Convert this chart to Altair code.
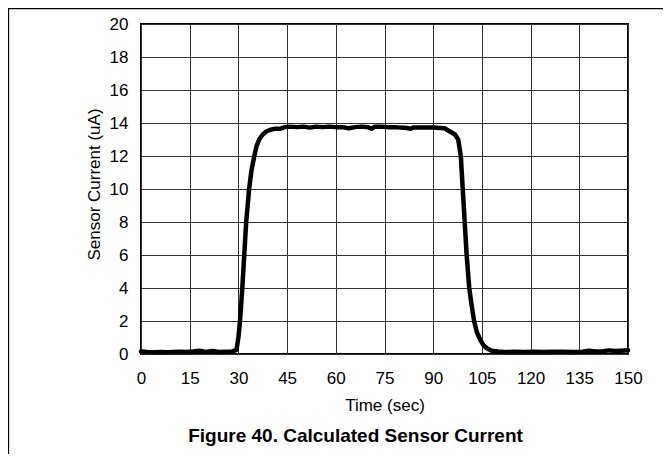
import altair as alt
import pandas as pd

# ---- data ----
time_sec = [0, 2, 4, 6, 8, 10, 12, 14, 16, 18, 20, 22, 24, 26, 28, 29.4,
            30.0, 30.5, 31.2, 31.8, 32.4, 33.3, 34.0, 34.9, 35.6, 36.4, 37.5, 38.7,
            40, 41.3, 42.8, 44.3, 46, 48, 50, 52, 54, 56, 58, 60, 62, 64, 66, 68,
            70, 71, 72, 74, 76, 78, 80, 82, 83, 84, 86, 88, 90, 92, 93.5, 95,
            96.7, 97.7, 98.5, 99.1, 99.7, 100.3, 101.1, 101.8, 102.6, 103.4, 104.4,
            105.4, 106.5, 108, 110, 112, 115, 118, 121, 124, 127, 130, 133, 136,
            138, 140, 142, 144, 146, 148, 150]
current_ua = [0.15, 0.12, 0.10, 0.12, 0.10, 0.12, 0.14, 0.12, 0.15, 0.20, 0.12, 0.18, 0.12, 0.14, 0.15, 0.25,
              1.0, 2.0, 4.0, 6.0, 8.0, 10.0, 11.1, 12.0, 12.6, 13.0, 13.3, 13.5,
              13.6, 13.65, 13.65, 13.75, 13.78, 13.75, 13.78, 13.72, 13.78, 13.75, 13.78, 13.75, 13.75, 13.68, 13.75, 13.78,
              13.74, 13.65, 13.78, 13.78, 13.75, 13.75, 13.72, 13.70, 13.65, 13.73, 13.72, 13.72, 13.72, 13.70, 13.68, 13.50,
              13.3, 13.0, 12.0, 10.0, 8.0, 6.0, 4.0, 3.0, 2.0, 1.35, 0.9,
              0.55, 0.35, 0.2, 0.15, 0.12, 0.13, 0.12, 0.14, 0.12, 0.13, 0.14, 0.12, 0.14,
              0.2, 0.15, 0.15, 0.22, 0.18, 0.2, 0.22]
x_ticks = [0, 15, 30, 45, 60, 75, 90, 105, 120, 135, 150]
y_ticks = [0, 2, 4, 6, 8, 10, 12, 14, 16, 18, 20]
x_title = "Time (sec)"
y_title = "Sensor Current (uA)"
fig_title = "Figure 40. Calculated Sensor Current"

df = pd.DataFrame({"t": time_sec, "i": current_ua})

FONT = "Liberation Sans, Arial, sans-serif"
W, H = 487, 330

x_enc = alt.X("t:Q", scale=alt.Scale(domain=[0, 150], nice=False),
              axis=alt.Axis(values=x_ticks, grid=True, ticks=False, tickSize=0, domain=False,
                            labelFont=FONT, labelFontSize=17, labelColor="black", labelPadding=16,
                            labelFlush=False, labelOverlap=False,
                            title=x_title, titleFont=FONT, titleFontSize=17, titleFontWeight="normal",
                            titleColor="black", titleY=56, titleBaseline="alphabetic",
                            gridColor="#333333", gridWidth=1, gridOpacity=1))
y_enc = alt.Y("i:Q", scale=alt.Scale(domain=[0, 20], nice=False),
              axis=alt.Axis(values=y_ticks, grid=True, ticks=False, tickSize=0, domain=False,
                            labelFont=FONT, labelFontSize=17, labelColor="black", labelPadding=13,
                            labelFlush=False, labelOverlap=False,
                            title=y_title, titleFont=FONT, titleFontSize=17, titleFontWeight="normal",
                            titleColor="black", titleX=-42, titleY=160, titleAngle=270,
                            titleAlign="center", titleBaseline="alphabetic",
                            gridColor="#333333", gridWidth=1, gridOpacity=1))

line = alt.Chart(df).mark_line(color="black", strokeWidth=4.5, strokeJoin="round",
                               strokeCap="round").encode(x=x_enc, y=y_enc)

title_df = pd.DataFrame({"label": [fig_title]})
title = alt.Chart(title_df).mark_text(font=FONT, fontSize=19, fontWeight="bold", color="black",
                                      align="center", baseline="alphabetic").encode(
    text="label:N", x=alt.value(214.5), y=alt.value(418))

frame_top = alt.Chart(title_df).mark_rule(color="black", strokeWidth=1.3).encode(
    x=alt.value(-133), x2=alt.value(530), y=alt.value(-15.5))
frame_left = alt.Chart(title_df).mark_rule(color="black", strokeWidth=1.3).encode(
    x=alt.value(-132.5), y=alt.value(-16), y2=alt.value(440))

chart = alt.layer(line, title, frame_top, frame_left).properties(
    width=W, height=H,
    autosize=alt.AutoSizeParams(type="none"),
    padding={"left": 133, "top": 16, "right": 35, "bottom": 100},
    background="white",
).configure_view(stroke="black", strokeWidth=2)

chart.save("out.html", embed_options={"renderer": "svg", "actions": False})
